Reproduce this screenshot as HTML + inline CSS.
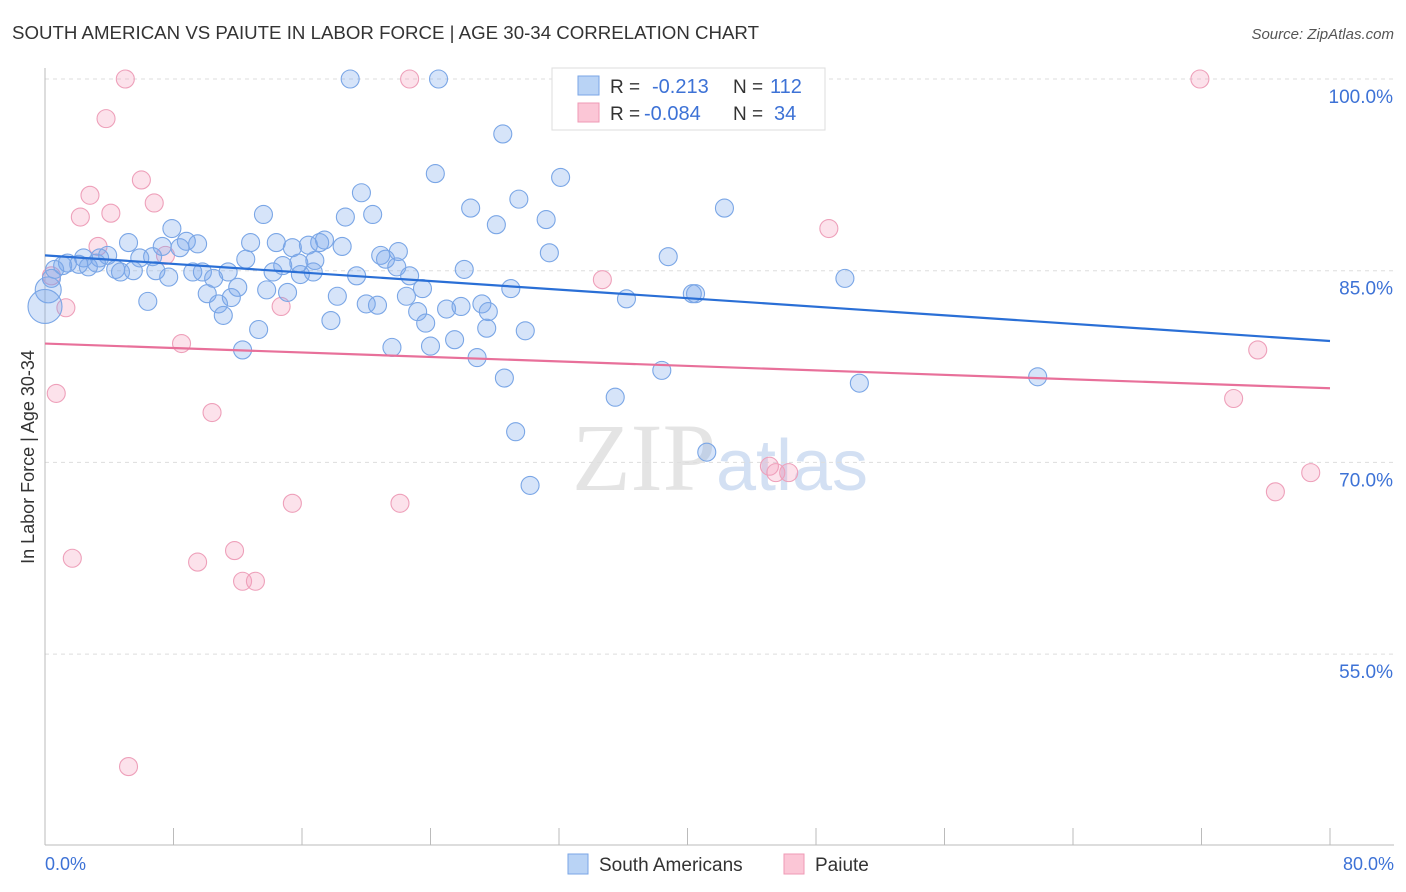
<!DOCTYPE html>
<html><head><meta charset="utf-8"><style>
body{margin:0;background:#fff;font-family:"Liberation Sans",sans-serif;}
svg{display:block}
</style></head><body>
<svg id="chart" width="1406" height="892" xmlns="http://www.w3.org/2000/svg">
<text x="12" y="39" font-size="18" fill="#333" textLength="747" lengthAdjust="spacingAndGlyphs">SOUTH AMERICAN VS PAIUTE IN LABOR FORCE | AGE 30-34 CORRELATION CHART</text>
<text x="1394" y="39" font-size="15" fill="#555" text-anchor="end" font-style="italic">Source: ZipAtlas.com</text>
<text x="720" y="490" font-size="96" fill="#e4e4e4" text-anchor="middle" font-family="Liberation Serif">ZIP<tspan fill="#d3e0f3" font-family="Liberation Sans" font-size="72">atlas</tspan></text>
<g id="grid"></g>
<g id="axes"></g>
<g id="marks"></g>
<text transform="translate(34,457) rotate(-90)" font-size="18" fill="#333" text-anchor="middle">In Labor Force | Age 30-34</text>
<text x="45" y="870" font-size="18" fill="#3d72d6">0.0%</text>
<text x="1394" y="870" font-size="18" fill="#3d72d6" text-anchor="end">80.0%</text>
<g>
<rect x="552" y="68" width="273" height="62" fill="#fff" stroke="#ddd"/>
<rect x="578" y="76" width="21" height="19" fill="#b9d3f5" stroke="#7aa6e6"/>
<rect x="578" y="103" width="21" height="19" fill="#fbc6d6" stroke="#ef9ab5"/>
<text x="610" y="93" font-size="19" fill="#333">R = </text><text x="652" y="93" font-size="20" fill="#3d72d6">-0.213</text>
<text x="733" y="93" font-size="19" fill="#333">N = </text><text x="770" y="93" font-size="20" fill="#3d72d6">112</text>
<text x="610" y="120" font-size="19" fill="#333">R = </text><text x="644" y="120" font-size="20" fill="#3d72d6">-0.084</text>
<text x="733" y="120" font-size="19" fill="#333">N = </text><text x="774" y="120" font-size="20" fill="#3d72d6">34</text>
</g>
<g>
<rect x="568" y="854" width="20" height="20" fill="#b9d3f5" stroke="#7aa6e6"/>
<text x="599" y="871" font-size="19" fill="#333">South Americans</text>
<rect x="784" y="854" width="20" height="20" fill="#fbc6d6" stroke="#ef9ab5"/>
<text x="815" y="871" font-size="19" fill="#333">Paiute</text>
</g>
</svg>
<script>
const yTicks=[100,85,70,55];
const xTicks=[0,8,16,24,32,40,48,56,64,72,80];
const blueX=[19.0,24.5,32.6,28.5,24.3,32.1,19.7,29.5,26.5,42.3,13.6,18.7,20.4,31.2,28.1,7.9,5.2,8.8,9.5,12.8,14.4,17.4,17.1,15.4,16.4,18.5,7.3,8.4,22.0,31.4,38.8,20.9,21.2,12.5,6.7,5.9,3.9,3.4,2.4,1.4,1.1,2.1,2.7,3.2,0.6,0.4,0.2,0.0,4.4,5.5,4.7,6.9,9.2,9.8,11.4,14.8,15.8,16.8,16.7,15.9,14.2,19.4,21.9,22.7,26.1,7.7,10.5,12.0,13.8,15.1,10.1,11.6,18.2,22.5,23.5,29.0,20.0,20.7,25.0,25.9,27.2,27.6,23.2,10.8,11.1,6.4,36.2,40.3,40.5,49.8,17.8,23.7,27.5,29.9,13.3,12.3,21.6,24.0,25.5,26.9,28.6,38.4,50.7,61.8,35.5,29.3,41.2,30.2];
const blueY=[100,100,100,95.7,92.6,92.3,91.1,90.6,89.9,89.9,89.4,89.2,89.4,89.0,88.6,88.3,87.2,87.3,87.1,87.2,87.2,87.4,87.2,86.8,87.0,86.9,86.9,86.8,86.5,86.4,86.1,86.2,85.9,85.9,86.1,86.0,86.2,86.0,86.0,85.6,85.4,85.5,85.3,85.6,85.1,84.4,83.5,82.2,85.1,85.0,84.9,85.0,84.9,84.9,84.9,85.4,85.6,85.8,84.9,84.7,84.9,84.6,85.3,84.6,85.1,84.5,84.4,83.7,83.5,83.3,83.2,82.9,83.0,83.0,83.6,83.6,82.4,82.3,82.0,82.2,82.4,81.8,81.8,82.4,81.5,82.6,82.8,83.2,83.2,84.4,81.1,80.9,80.5,80.3,80.4,78.8,79.0,79.1,79.6,78.2,76.6,77.2,76.2,76.7,75.1,72.4,70.8,68.2];
const pinkX=[5.0,22.7,71.9,3.8,6.0,2.8,2.2,4.1,6.8,48.8,3.3,7.5,0.4,1.3,14.7,34.7,8.5,75.5,0.7,10.4,74.0,45.1,45.5,46.3,78.8,76.6,15.4,22.1,1.7,11.8,9.5,12.3,13.1,5.2];
const pinkY=[100,100,100,96.9,92.1,90.9,89.2,89.5,90.3,88.3,86.9,86.2,84.6,82.1,82.2,84.3,79.3,78.8,75.4,73.9,75.0,69.7,69.2,69.2,69.2,67.7,66.8,66.8,62.5,63.1,62.2,60.7,60.7,46.2];
const blueTrend=[86.2,79.5];
const pinkTrend=[79.3,75.8];
const NS='http://www.w3.org/2000/svg';
const sx=v=>45+v*(1285/80);
const sy=v=>79+(100-v)*12.78;
function mk(tag,attrs,parent){const e=document.createElementNS(NS,tag);for(const k in attrs)e.setAttribute(k,attrs[k]);parent.appendChild(e);return e;}
const grid=document.getElementById('grid'),axes=document.getElementById('axes'),marks=document.getElementById('marks');
yTicks.forEach(t=>{
 const l=mk('line',{x1:45,x2:1394,y1:sy(t),y2:sy(t),stroke:'#ddd','stroke-dasharray':'4,4'},grid);
 
 
 const tx=mk('text',{x:1393,y:sy(t)+24,'font-size':19,fill:'#3d72d6','text-anchor':'end'},grid);
 tx.textContent=t.toFixed(1)+'%';
 
 
});
const ya=mk('line',{x1:45,x2:45,y1:68,y2:845,stroke:'#bbb'},axes);


const xa=mk('line',{x1:45,x2:1394,y1:845,y2:845,stroke:'#bbb'},axes);


xTicks.forEach(t=>{
 const l=mk('line',{x1:sx(t),x2:sx(t),y1:828,y2:845,stroke:'#bbb'},axes);
 
 
});
function pts(xs,ys,fill,stroke,name){
 xs.forEach((x,i)=>{
  const big=(x<=0.2&&ys[i]<84);
  const c=mk('circle',{cx:sx(x),cy:sy(ys[i]),r:big?(x===0?17:13):9,fill:fill,stroke:stroke,'stroke-width':1.1},marks);
  
  
 });
}
pts(pinkX,pinkY,'rgba(246,160,190,0.3)','#eea0ba','paiute-point');
pts(blueX,blueY,'rgba(120,165,235,0.3)','#7aa6e6','south-american-point');
const bl=mk('line',{x1:sx(0),x2:sx(80),y1:sy(blueTrend[0]),y2:sy(blueTrend[1]),stroke:'#2a6fd6','stroke-width':2.2},marks);


const pl=mk('line',{x1:sx(0),x2:sx(80),y1:sy(pinkTrend[0]),y2:sy(pinkTrend[1]),stroke:'#e8709a','stroke-width':2.2},marks);


</script>
</body></html>
